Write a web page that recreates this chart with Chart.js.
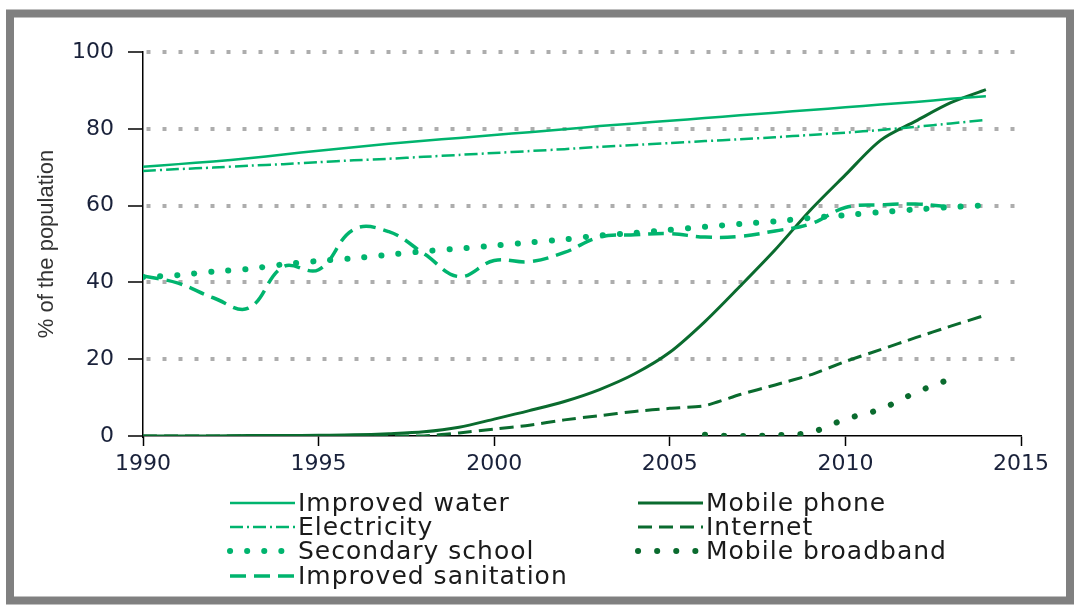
<!DOCTYPE html>
<html>
<head>
<meta charset="utf-8">
<script src="https://cdn.jsdelivr.net/npm/chart.js@4.4.1/dist/chart.umd.min.js"></script>
<style>
  html, body { margin: 0; padding: 0; background: #fff; }
</style>
</head>
<body>
<canvas id="chart" width="1077" height="605"></canvas>
<script>
const years = [1990, 1991, 1992, 1993, 1994, 1995, 1996, 1997, 1998, 1999, 2000, 2001, 2002,
               2003, 2004, 2005, 2006, 2007, 2008, 2009, 2010, 2011, 2012, 2013, 2014];

const improvedWater = [70.1, 70.8, 71.5, 72.3, 73.3, 74.3, 75.2, 76.1, 76.9, 77.6, 78.4, 79.1, 79.9,
                       80.7, 81.4, 82.1, 82.8, 83.5, 84.2, 84.9, 85.6, 86.3, 87.0, 87.8, 88.5];
const electricity = [69.0, 69.5, 69.9, 70.4, 70.8, 71.3, 71.8, 72.2, 72.7, 73.2, 73.7, 74.2, 74.7,
                     75.3, 75.8, 76.3, 76.8, 77.3, 77.8, 78.4, 79.0, 79.7, 80.5, 81.4, 82.3];
const secondarySchool = [41.4, 41.9, 42.8, 43.5, 44.7, 45.6, 46.3, 47.2, 48.1, 48.8, 49.6, 50.4, 51.2,
                         52.2, 52.9, 53.7, 54.5, 55.2, 55.9, 56.8, 57.5, 58.3, 59.0, 59.6, 60.1];
const improvedSanitation = [41.7, 39.8, 36.0, 33.3, 44.1, 43.3, 53.8, 53.2, 47.5, 41.5, 45.7, 45.4, 47.8,
                            51.8, 52.4, 52.7, 51.8, 52.0, 53.4, 55.2, 59.5, 60.2, 60.4, 59.7, null];
const mobilePhone = [0, 0, 0, 0.1, 0.1, 0.2, 0.3, 0.6, 1.1, 2.3, 4.4, 6.6, 9.0,
                     12.1, 16.2, 21.8, 29.8, 39.0, 48.5, 58.8, 68.0, 77.0, 82.0, 86.8, 90.2];
const internet = [0, 0, 0, 0, 0, 0, 0, 0, 0, 0.8, 1.8, 2.8, 4.2,
                  5.3, 6.4, 7.2, 7.9, 10.8, 13.3, 15.9, 19.4, 22.5, 25.6, 28.6, 31.5];
const mobileBroadband = [null, null, null, null, null, null, null, null, null, null, null, null, null,
                         null, null, null, 0.3, 0, 0.2, 0.9, 4.4, 7.0, 11.3, 14.9, null];

const xTickValues = [1990, 1995, 2000, 2005, 2010, 2015];
const yTickValues = [0, 20, 40, 60, 80, 100];

const lightGreen = '#00b46e';
const darkGreen = '#0a6b2e';
const tickColor = '#19213a';

const toPoints = vals => years.map((yr, i) => ({ x: yr, y: vals[i] }));

const framePlugin = {
    id: 'frame',
    beforeDraw(chart) {
        const ctx = chart.ctx;
        ctx.save();
        ctx.fillStyle = '#fff';
        ctx.fillRect(0, 0, chart.width, chart.height);
        ctx.strokeStyle = '#808080';
        ctx.lineWidth = 8;
        ctx.strokeRect(10, 13.5, 1060, 587);
        ctx.restore();
    }
};

// two-column legend under the plot
const legendPlugin = {
    id: 'gridLegend',
    afterDraw(chart) {
        const ctx = chart.ctx;
        const cols = [{ x: 230, items: [0, 1, 2, 3] }, { x: 638, items: [4, 5, 6] }];
        const rowY = [503, 527, 551, 576];
        ctx.save();
        ctx.font = '25px "DejaVu Sans"';
        ctx.letterSpacing = '1px';
        ctx.textBaseline = 'middle';
        ctx.fillStyle = '#1a1a1a';
        cols.forEach(col => {
            col.items.forEach((di, r) => {
                const ds = chart.data.datasets[di];
                const y = rowY[r];
                ctx.save();
                ctx.strokeStyle = ds.borderColor;
                ctx.lineWidth = ds.borderWidth;
                ctx.lineCap = ds.borderCapStyle || 'butt';
                ctx.setLineDash(ds.borderDash || []);
                ctx.beginPath();
                ctx.moveTo(col.x, y);
                ctx.lineTo(col.x + 65, y);
                ctx.stroke();
                ctx.restore();
                ctx.fillText(ds.label, col.x + 68, y + 1);
            });
        });
        ctx.restore();
    }
};

const ctx = document.getElementById('chart').getContext('2d');
const chart = new Chart(ctx, {
    type: 'line',
    data: {
        datasets: [
            { label: 'Improved water', data: toPoints(improvedWater), borderColor: lightGreen, borderWidth: 2.5, tension: 0.2 },
            { label: 'Electricity', data: toPoints(electricity), borderColor: lightGreen, borderWidth: 2.5, borderDash: [13, 4, 2, 4], tension: 0.2 },
            { label: 'Secondary school', data: toPoints(secondarySchool), borderColor: lightGreen, borderWidth: 6, borderDash: [0.1, 17], borderCapStyle: 'round', tension: 0.2 },
            { label: 'Improved sanitation', data: toPoints(improvedSanitation), borderColor: lightGreen, borderWidth: 3.5, borderDash: [16, 8], tension: 0.4 },
            { label: 'Mobile phone', data: toPoints(mobilePhone), borderColor: darkGreen, borderWidth: 3, tension: 0.3 },
            { label: 'Internet', data: toPoints(internet), borderColor: darkGreen, borderWidth: 3, borderDash: [14, 7], tension: 0.2 },
            { label: 'Mobile broadband', data: toPoints(mobileBroadband), borderColor: darkGreen, borderWidth: 6, borderDash: [0.1, 19], borderCapStyle: 'round', cubicInterpolationMode: 'monotone' }
        ]
    },
    options: {
        responsive: false,
        animation: false,
        layout: { padding: { left: 0, right: 56, top: 52, bottom: 0 } },
        elements: { point: { radius: 0 } },
        plugins: {
            legend: { display: false },
            tooltip: { enabled: false }
        },
        scales: {
            x: {
                type: 'linear',
                min: 1990,
                max: 2015,
                afterFit: scale => { scale.height = 169; },
                afterBuildTicks: scale => { scale.ticks = xTickValues.map(v => ({ value: v })); },
                ticks: {
                    callback: v => String(v),
                    font: { family: 'DejaVu Sans', size: 22 },
                    color: tickColor,
                    padding: 5,
                    maxRotation: 0,
                    autoSkip: false
                },
                grid: { drawOnChartArea: false, drawTicks: true, tickLength: 10, tickColor: '#000', tickWidth: 1.5 },
                border: { color: '#000', width: 1.5 }
            },
            y: {
                min: 0,
                max: 100,
                afterFit: scale => { scale.width = 143; },
                afterBuildTicks: scale => { scale.ticks = yTickValues.map(v => ({ value: v })); },
                ticks: {
                    font: { family: 'DejaVu Sans', size: 22 },
                    color: tickColor,
                    padding: 14
                },
                title: {
                    display: true,
                    text: '% of the population',
                    font: { family: 'Liberation Sans', size: 22 },
                    color: '#333',
                    padding: { top: 34, bottom: 0 }
                },
                grid: {
                    color: c => (c.tick && c.tick.value === 0) ? 'rgba(0,0,0,0)' : '#adadad',
                    lineWidth: 4,
                    tickColor: '#000',
                    tickLength: 15,
                    tickWidth: 1.5,
                    tickBorderDash: []
                },
                border: { color: '#000', width: 1.5, dash: [4, 12], dashOffset: -3 }
            }
        }
    },
    plugins: [framePlugin, legendPlugin]
});
</script>
</body>
</html>
